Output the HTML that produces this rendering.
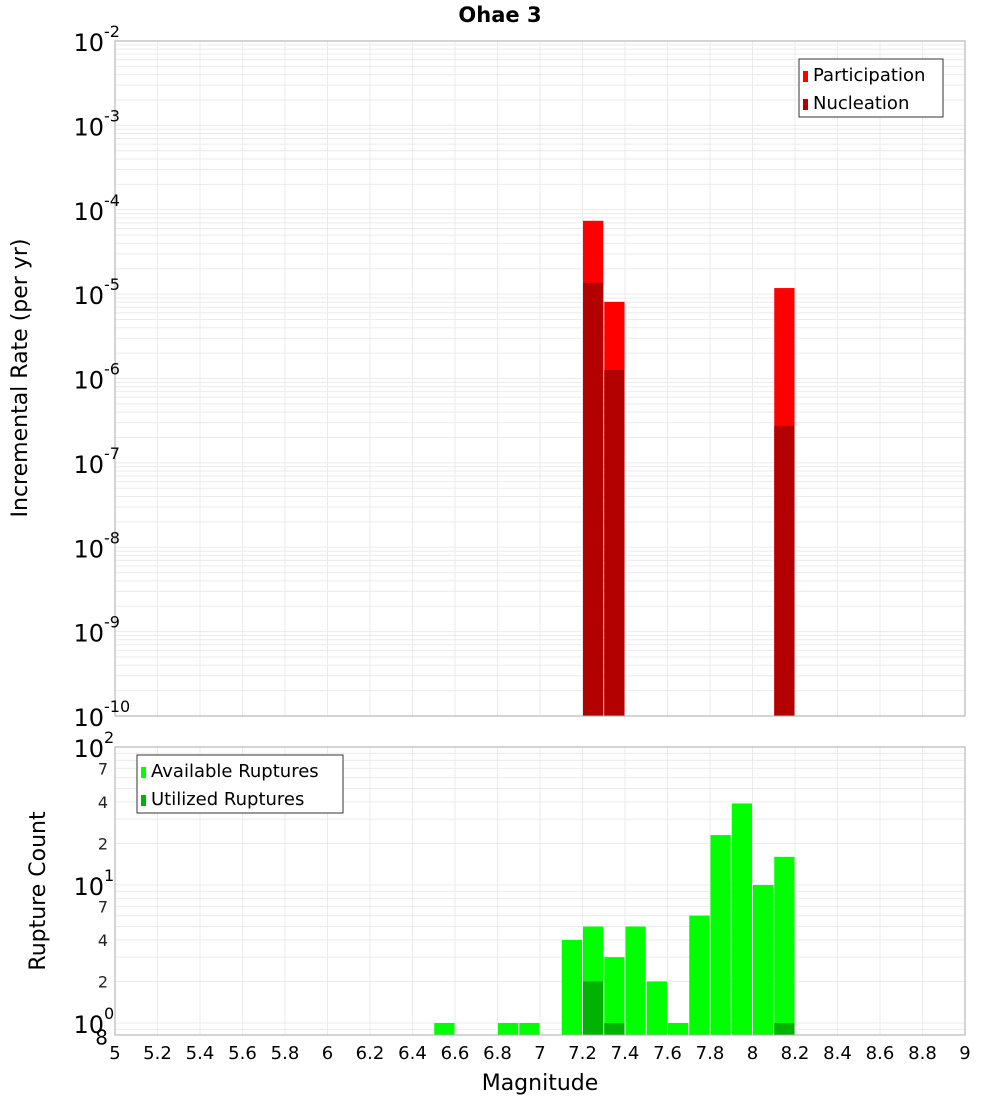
<!DOCTYPE html>
<html><head><meta charset="utf-8"><style>
body{margin:0;background:#fff;font-family:"Liberation Sans","DejaVu Sans",sans-serif}
</style></head><body>
<svg id="c" width="1000" height="1100" xmlns="http://www.w3.org/2000/svg" font-family="DejaVu Sans, Liberation Sans, sans-serif"></svg>
<script>
const mags=[7.25,7.35,8.15];
const participation=[7.4e-5,8.1e-6,1.18e-5];
const nucleation=[1.36e-5,1.26e-6,2.75e-7];
const countMags=[6.55,6.85,6.95,7.15,7.25,7.35,7.45,7.55,7.65,7.75,7.85,7.95,8.05,8.15];
const available=[1,1,1,4,5,3,5,2,1,6,23,39,10,16];
const utilMags=[7.25,7.35,8.15];
const utilized=[2,1,1];
const xTicks=[5,5.2,5.4,5.6,5.8,6,6.2,6.4,6.6,6.8,7,7.2,7.4,7.6,7.8,8,8.2,8.4,8.6,8.8,9];
const topExps=[-2,-3,-4,-5,-6,-7,-8,-9,-10];
const botMinor=[7,4,2];

const svg=document.getElementById('c');
const NS='http://www.w3.org/2000/svg';
function el(t,a,p){const e=document.createElementNS(NS,t);for(const k in a)e.setAttribute(k,a[k]);(p||svg).appendChild(e);return e;}
const L=115,R=965;
const X=m=>L+(m-5)/4*(R-L);
const T0=41,T1=716;
const yT=v=>T0+(-2-Math.log10(v))*(T1-T0)/8;
const B0=747,B1=1035;
const yB=v=>1023-Math.log10(v)*138;

// title
const title=el('text',{x:500,y:22,'text-anchor':'middle','font-size':21,'font-weight':'bold'});title.textContent='Ohae 3';



// top grid
const gT=el('g',{stroke:'#ebebeb','stroke-width':1});


for(let e=-10;e<-2;e++){for(let k=1;k<10;k++){const y=yT(k*Math.pow(10,e));el('line',{x1:L,x2:R,y1:y,y2:y},gT);}}
const gB=el('g',{stroke:'#ebebeb','stroke-width':1});


for(let v of [0.8,0.9,1,2,3,4,5,6,7,8,9,10,20,30,40,50,60,70,80,90]){const y=yB(v);if(y>=B0&&y<=B1)el('line',{x1:L,x2:R,y1:y,y2:y},gB);}
xTicks.forEach(t=>{const x=X(t);el('line',{x1:x,x2:x,y1:T0,y2:T1},gT);el('line',{x1:x,x2:x,y1:B0,y2:B1},gB);});

// top bars
const bw=(R-L)/40;
mags.forEach((m,i)=>{
 const x=X(m)-bw/2+0.5;
 const b=el('rect',{x:x,y:yT(participation[i]),width:bw-1,height:T1-yT(participation[i]),fill:'#ff0000'});
 
 
 const n=el('rect',{x:x,y:yT(nucleation[i]),width:bw-1,height:T1-yT(nucleation[i]),fill:'#b30000'});
 
 
});
countMags.forEach((m,i)=>{
 const x=X(m)-bw/2+0.5;
 const b=el('rect',{x:x,y:yB(available[i]),width:bw-1,height:B1-yB(available[i]),fill:'#00ff00'});
 
 
});
utilMags.forEach((m,i)=>{
 const x=X(m)-bw/2+0.5;
 const b=el('rect',{x:x,y:yB(utilized[i]),width:bw-1,height:B1-yB(utilized[i]),fill:'#00b300'});
 
 
});

// frames
el('rect',{x:L,y:T0,width:R-L,height:T1-T0,fill:'none',stroke:'#aaa'});
el('rect',{x:L,y:B0,width:R-L,height:B1-B0,fill:'none',stroke:'#aaa'});

// top y labels
topExps.forEach(e=>{
 const y=yT(Math.pow(10,e));
 const t=el('text',{x:104,y:y+10,'text-anchor':'end','font-size':24});
 t.textContent='10';
 
 
 const s=el('text',{x:104,y:y-4,'font-size':16});s.textContent=String(e);
 
 
});
// bottom y labels
[[100,'2'],[10,'1'],[1,'0']].forEach(([v,e])=>{
 const y=yB(v);
 const t=el('text',{x:104,y:y+10,'text-anchor':'end','font-size':24});t.textContent='10';
 
 
 const s=el('text',{x:104,y:y-4,'font-size':16});s.textContent=e;
 
 
});
[10,1].forEach(d=>botMinor.forEach(k=>{
 const y=yB(k*d);
 const t=el('text',{x:108,y:y+6,'text-anchor':'end','font-size':16,fill:'#222'});t.textContent=String(k);
 
 
}));
const e8=el('text',{x:108,y:yB(0.8)+8,'text-anchor':'end','font-size':20});e8.textContent='8';



// x labels
xTicks.forEach(t=>{
 const s=el('text',{x:X(t),y:1059,'text-anchor':'middle','font-size':18});
 s.textContent=String(t);
 
 
});
const xt=el('text',{x:540,y:1090,'text-anchor':'middle','font-size':22});xt.textContent='Magnitude';


const yt=el('text',{x:0,y:0,'text-anchor':'middle','font-size':22,transform:'translate(27,378) rotate(-90)'});yt.textContent='Incremental Rate (per yr)';


const yb=el('text',{x:0,y:0,'text-anchor':'middle','font-size':22,transform:'translate(45,891) rotate(-90)'});yb.textContent='Rupture Count';



// legends
function legend(x,y,w,items,name){
 const g=el('g',{});
 
 
 el('rect',{x:x,y:y,width:w,height:58,fill:'#fff',stroke:'#333'},g);
 items.forEach(([c,l],i)=>{
  el('rect',{x:x+4,y:y+12+i*28,width:5,height:11,fill:c},g);
  const t=el('text',{x:x+14,y:y+22+i*28,'font-size':18},g);t.textContent=l;
 });
}
legend(799,59,144,[['#ff0000','Participation'],['#b30000','Nucleation']],'top-legend');
legend(137,755,206,[['#00ff00','Available Ruptures'],['#00b300','Utilized Ruptures']],'bottom-legend');
</script>
</body></html>
